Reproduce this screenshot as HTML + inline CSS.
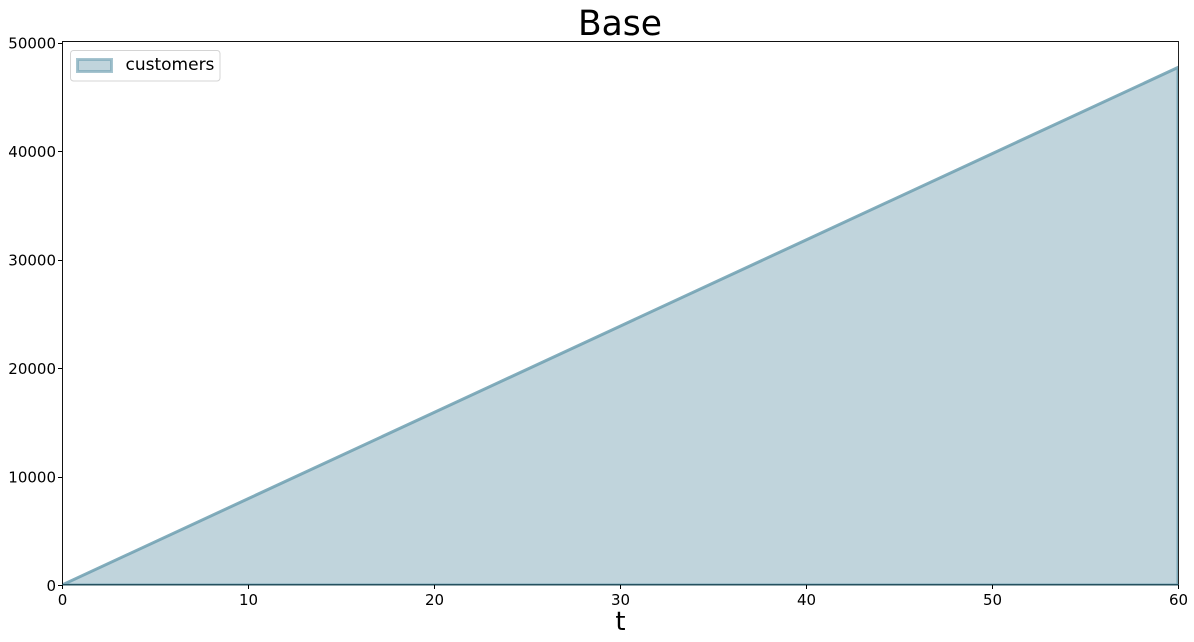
<!DOCTYPE html>
<html>
<head>
<meta charset="utf-8">
<style>
html,body{margin:0;padding:0;background:#fff;width:1194px;height:642px;overflow:hidden}
svg{display:block}
text{font-family:"DejaVu Sans",sans-serif;fill:#000}
</style>
</head>
<body>
<svg id="chart" width="1194" height="642" viewBox="0 0 1194 642" xmlns="http://www.w3.org/2000/svg">
<rect x="0" y="0" width="1194" height="642" fill="#fff"/>
<text x="620" y="35" font-size="34.5" text-anchor="middle">Base</text>
<g id="marks"></g>
<g id="axes"></g>
<text x="620.5" y="630" font-size="26" text-anchor="middle">t</text>
<g>
<rect x="70.5" y="50.5" width="149.5" height="30.5" rx="3" fill="#fff" stroke="#d4d4d4" stroke-width="1"/>
<rect x="77.5" y="59.5" width="34" height="12" fill="#c0d4dc" stroke="#6d9fb0" stroke-opacity="0.6" stroke-width="3"/>
<text x="125.5" y="70" font-size="17">customers</text>
</g>
</svg>
<script>
var tValues = [0, 10, 20, 30, 40, 50, 60];
var customers = [0, 7950, 15900, 23850, 31800, 39750, 47700];
var xTicks = [0, 10, 20, 30, 40, 50, 60];
var yTicks = [0, 10000, 20000, 30000, 40000, 50000];
var xDomain = [0, 60];
var yDomain = [0, 50000];

var NS = 'http://www.w3.org/2000/svg';
var plot = {left: 62, right: 1178, top: 42.5, bottom: 585};
function xScale(v) {
  return plot.left + (v - xDomain[0]) / (xDomain[1] - xDomain[0]) * (plot.right - plot.left);
}
function yScale(v) {
  return plot.bottom - (v - yDomain[0]) / (yDomain[1] - yDomain[0]) * (plot.bottom - plot.top);
}
function make(tag, attrs, parent) {
  var el = document.createElementNS(NS, tag);
  for (var k in attrs) { el.setAttribute(k, attrs[k]); }
  parent.appendChild(el);
  return el;
}
var marks = document.getElementById('marks');
var axes = document.getElementById('axes');

var pts = tValues.map(function (t, i) { return xScale(t) + ',' + yScale(customers[i]); });
var areaD = 'M' + pts.join('L') + 'L' + xScale(tValues[tValues.length - 1]) + ',' + yScale(0) + 'L' + xScale(tValues[0]) + ',' + yScale(0) + 'Z';

var clip = make('clipPath', {id: 'plot-clip'}, marks);
make('rect', {x: plot.left, y: 41, width: plot.right - plot.left, height: plot.bottom - 41}, clip);

var area = make('path', {d: areaD, fill: '#c0d4dc', stroke: 'none'}, marks);



var edge = make('path', {d: areaD, fill: 'none', stroke: '#6d9fb0', 'stroke-opacity': 0.85, 'stroke-width': 3, 'clip-path': 'url(#plot-clip)'}, marks);



var spineTop = make('line', {x1: 62, x2: 1179, y1: 41.5, y2: 41.5, stroke: '#111', 'stroke-width': 1}, axes);


var spineLeft = make('line', {x1: 62.5, x2: 62.5, y1: 41, y2: 585.5, stroke: '#111', 'stroke-width': 1}, axes);


var spineRight = make('line', {x1: 1178.5, x2: 1178.5, y1: 41, y2: 585.5, stroke: '#222', 'stroke-width': 1}, axes);


var spineBottom = make('line', {x1: 62, x2: 1179, y1: 584.75, y2: 584.75, stroke: '#24505e', 'stroke-width': 1.5}, axes);



xTicks.forEach(function (v) {
  var x = Math.round(xScale(v)) + 0.5;
  var tick = make('line', {x1: x, x2: x, y1: plot.bottom, y2: plot.bottom + 4, stroke: '#000', 'stroke-width': 1}, axes);
  
  
  var label = make('text', {x: xScale(v) + 0.5, y: plot.bottom + 20, 'font-size': 15, 'text-anchor': 'middle'}, axes);
  
  
  label.textContent = v;
});
yTicks.forEach(function (v) {
  var y = Math.round(yScale(v)) + 0.5;
  var tick = make('line', {x1: plot.left - 4, x2: plot.left, y1: y, y2: y, stroke: '#000', 'stroke-width': 1}, axes);
  
  
  var label = make('text', {x: plot.left - 6, y: yScale(v) + 6, 'font-size': 15, 'text-anchor': 'end'}, axes);
  
  
  label.textContent = v;
});
</script>
</body>
</html>
